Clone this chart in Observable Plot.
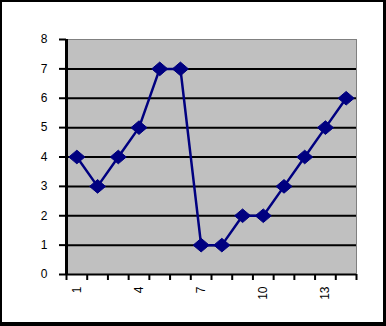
<!DOCTYPE html>
<html>
<head>
<meta charset="utf-8">
<script src="https://cdn.jsdelivr.net/npm/d3@7"></script>
<script src="https://cdn.jsdelivr.net/npm/@observablehq/plot@0.6"></script>
<style>
  html, body { margin: 0; padding: 0; background: #fff; }
  #wrap { position: relative; width: 386px; height: 326px; overflow: hidden; }
  #wrap svg { position: absolute; left: 0; top: 0; }
  #border { position: absolute; left: 0; top: 0; width: 386px; height: 326px; box-sizing: border-box;
            border-style: solid; border-color: #000; border-width: 2px 3px 4px 2px; pointer-events: none; }
</style>
</head>
<body>
<div id="wrap"><div id="border"></div></div>
<script>
const categories = [1, 2, 3, 4, 5, 6, 7, 8, 9, 10, 11, 12, 13, 14];
const values = [4, 3, 4, 5, 7, 7, 1, 1, 2, 2, 3, 4, 5, 6];
const xTickLabels = [1, 4, 7, 10, 13];
const yTicks = [0, 1, 2, 3, 4, 5, 6, 7, 8];
const gridValues = [1, 2, 3, 4, 5, 6, 7];

const data = categories.map((c, i) => ({x: c, y: values[i]}));
const bounds = [...categories.map(c => c - 0.5), categories[categories.length - 1] + 0.5];

const diamond = {
  draw(ctx, size) {
    const r = Math.sqrt(size / Math.PI);
    const h = r * 0.85;
    ctx.moveTo(0, -h);
    ctx.lineTo(r, 0);
    ctx.lineTo(0, h);
    ctx.lineTo(-r, 0);
    ctx.closePath();
  }
};

const chart = Plot.plot({
  width: 386,
  height: 326,
  marginLeft: 66,
  marginRight: 30,
  marginTop: 39,
  marginBottom: 52,
  style: {fontFamily: "'Liberation Sans', Arial, sans-serif", fontSize: "12px", color: "#000", background: "transparent"},
  x: {domain: [bounds[0], bounds[bounds.length - 1]], label: null},
  y: {domain: [0, 8], label: null},
  marks: [
    Plot.frame({fill: "#c0c0c0", stroke: "#808080", strokeWidth: 1}),
    Plot.ruleY(gridValues, {stroke: "#000", strokeWidth: 2}),
    Plot.ruleY([0], {stroke: "#000", strokeWidth: 2}),
    Plot.ruleX([bounds[0]], {stroke: "#000", strokeWidth: 3}),
    Plot.axisY(yTicks, {tickSize: 7, tickPadding: 12, strokeWidth: 2, fontSize: 12, label: null}),
    Plot.axisX(bounds, {tickSize: 6, strokeWidth: 2, tickFormat: () => "", label: null}),
    Plot.axisX(xTickLabels, {tickSize: 0, tickRotate: -90, tickPadding: 12, fontSize: 12, label: null}),
    Plot.line(data, {x: "x", y: "y", stroke: "#000080", strokeWidth: 2.5}),
    Plot.dot(data, {x: "x", y: "y", symbol: diamond, r: 8, fill: "#000080", stroke: "#000080", strokeWidth: 1})
  ]
});
document.getElementById("wrap").insertBefore(chart, document.getElementById("border"));
</script>
</body>
</html>
